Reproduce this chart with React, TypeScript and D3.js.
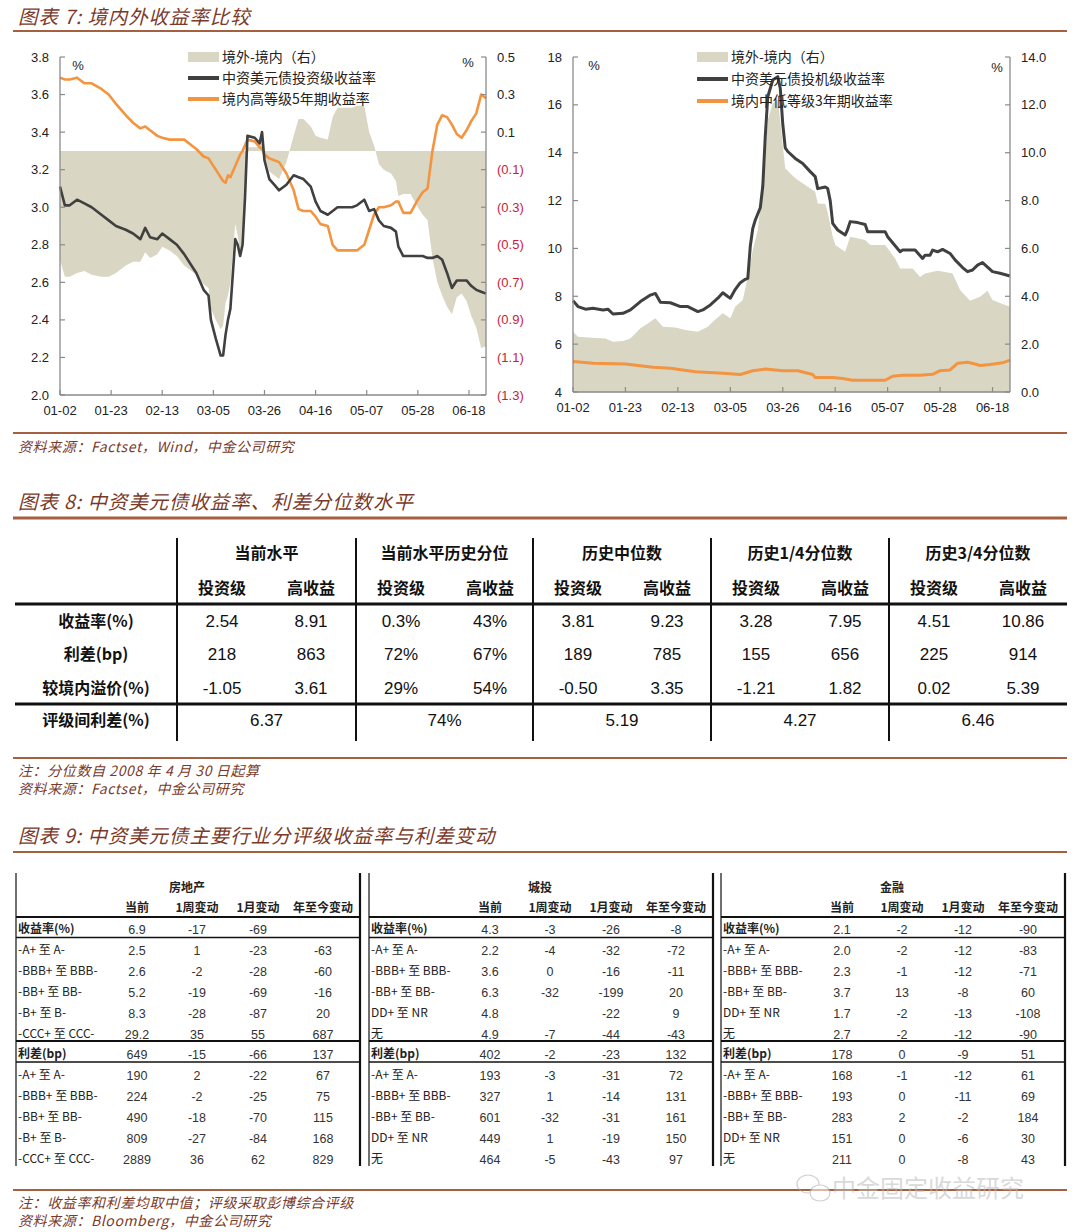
import React from "react";
import * as d3 from "d3";

// ---------- shared ----------
const BASE = new Date(2020, 0, 2);
const END_DAY = 175;
const xTickLabels = ["01-02", "01-23", "02-13", "03-05", "03-26", "04-16", "05-07", "05-28", "06-18"];

// ---------- Chart 7 (left): investment grade ----------
const leftDays = [0, 2, 4, 7, 10, 13, 17, 20, 23, 27, 30, 33, 35, 37, 40, 42, 45, 48, 51, 54, 56, 59, 61, 62, 64, 66, 67, 68, 69, 70, 72, 73, 74, 75, 76, 77, 80, 82, 83, 84, 86, 88, 90, 93, 96, 98, 100, 103, 105, 107, 110, 112, 114, 117, 120, 122, 125, 127, 129, 131, 133, 136, 138, 139, 141, 144, 147, 149, 151, 153, 155, 157, 159, 161, 163, 165, 167, 169, 171, 173, 175];
const leftIgYield = [3.11, 3.01, 3.01, 3.04, 3.02, 3.0, 2.96, 2.93, 2.9, 2.88, 2.86, 2.83, 2.89, 2.84, 2.83, 2.86, 2.83, 2.8, 2.75, 2.69, 2.65, 2.56, 2.53, 2.4, 2.3, 2.21, 2.21, 2.32, 2.4, 2.46, 2.83, 2.8, 2.74, 2.8, 3.05, 3.38, 3.37, 3.34, 3.4, 3.25, 3.15, 3.12, 3.09, 3.12, 3.17, 3.16, 3.15, 3.11, 3.03, 2.98, 2.96, 2.98, 3.0, 3.0, 3.0, 3.01, 3.04, 2.98, 2.99, 2.93, 2.9, 2.89, 2.87, 2.79, 2.74, 2.74, 2.74, 2.74, 2.73, 2.73, 2.74, 2.72, 2.65, 2.57, 2.61, 2.61, 2.61, 2.58, 2.56, 2.55, 2.54];
const leftDomHigh5y = [3.69, 3.68, 3.68, 3.69, 3.66, 3.66, 3.63, 3.6, 3.55, 3.49, 3.45, 3.42, 3.43, 3.41, 3.38, 3.37, 3.36, 3.36, 3.36, 3.33, 3.31, 3.27, 3.26, 3.24, 3.2, 3.16, 3.14, 3.13, 3.17, 3.16, 3.22, 3.25, 3.28, 3.3, 3.33, 3.36, 3.35, 3.32, 3.31, 3.28, 3.26, 3.25, 3.24, 3.18, 3.09, 2.99, 2.98, 2.98, 2.95, 2.91, 2.9, 2.8, 2.77, 2.77, 2.77, 2.77, 2.8, 2.88, 2.96, 3.0, 3.0, 3.01, 3.03, 3.03, 2.97, 2.97, 3.04, 3.08, 3.1, 3.3, 3.44, 3.49, 3.48, 3.44, 3.39, 3.37, 3.41, 3.46, 3.5, 3.6, 3.58];
const leftSpread = [-0.58, -0.67, -0.67, -0.65, -0.64, -0.66, -0.67, -0.67, -0.65, -0.61, -0.59, -0.59, -0.54, -0.57, -0.55, -0.51, -0.53, -0.56, -0.61, -0.64, -0.66, -0.71, -0.73, -0.84, -0.9, -0.95, -0.93, -0.81, -0.77, -0.7, -0.39, -0.45, -0.54, -0.5, -0.28, 0.02, 0.02, 0.02, 0.09, -0.03, -0.11, -0.13, -0.15, -0.06, 0.08, 0.17, 0.17, 0.13, 0.08, 0.07, 0.06, 0.18, 0.23, 0.23, 0.23, 0.24, 0.24, 0.1, 0.03, -0.07, -0.1, -0.12, -0.16, -0.24, -0.23, -0.23, -0.3, -0.34, -0.37, -0.57, -0.7, -0.77, -0.83, -0.87, -0.78, -0.76, -0.8, -0.88, -0.94, -1.05, -1.04];
const leftTicksL = [2.0, 2.2, 2.4, 2.6, 2.8, 3.0, 3.2, 3.4, 3.6, 3.8];
const leftTicksR = [-1.3, -1.1, -0.9, -0.7, -0.5, -0.3, -0.1, 0.1, 0.3, 0.5];
const leftLegend = ["境外-境内（右）", "中资美元债投资级收益率", "境内高等级5年期收益率"];

// ---------- Chart 7 (right): high yield ----------
const rightHyDays = [0, 2, 5, 8, 12, 14, 16, 20, 23, 27, 31, 33, 35, 39, 43, 46, 50, 52, 55, 58, 60, 62, 63, 65, 67, 69, 70, 71, 72, 73, 75, 76, 77, 78, 80, 82, 83, 84, 85, 86, 89, 92, 95, 97, 98, 101, 102, 103, 104, 106, 109, 110, 111, 114, 117, 118, 125, 126, 131, 132, 137, 140, 141, 143, 144, 146, 148, 151, 153, 156, 158, 160, 162, 164, 165, 168, 171, 175];
const rightHyYield = [7.82, 7.57, 7.46, 7.5, 7.43, 7.46, 7.26, 7.29, 7.43, 7.78, 8.05, 8.12, 7.75, 7.73, 7.57, 7.57, 7.36, 7.43, 7.64, 7.92, 8.15, 7.99, 7.92, 8.29, 8.57, 8.71, 8.75, 10.1, 10.84, 11.19, 11.7, 12.6, 14.7, 16.34, 17.04, 17.18, 16.7, 15.2, 14.2, 14.05, 13.76, 13.55, 13.21, 13.0, 12.5, 12.57, 12.5, 12.0, 11.05, 10.77, 10.56, 10.8, 11.12, 11.08, 11.0, 10.7, 10.7, 10.49, 9.86, 9.93, 9.93, 9.58, 9.72, 9.72, 9.93, 9.86, 9.96, 9.79, 9.52, 9.2, 9.03, 9.1, 9.3, 9.41, 9.31, 9.03, 8.96, 8.85];
const rightSpreadDays = [0, 2, 8, 13, 16, 20, 23, 27, 31, 33, 36, 41, 45, 50, 54, 57, 60, 63, 65, 68, 70, 72, 74, 75, 77, 78, 80, 82, 83, 84, 85, 89, 93, 97, 98, 101, 102, 104, 105, 109, 111, 117, 119, 125, 129, 131, 136, 139, 141, 146, 149, 152, 155, 159, 163, 166, 168, 172, 175];
const rightSpread = [2.52, 2.31, 2.27, 2.24, 2.1, 2.13, 2.24, 2.66, 2.94, 3.08, 2.73, 2.7, 2.59, 2.52, 2.73, 3.03, 3.29, 3.08, 3.57, 3.85, 4.82, 5.93, 6.77, 7.74, 9.7, 11.37, 12.07, 12.2, 11.3, 10.3, 9.35, 8.93, 8.65, 8.37, 7.88, 7.86, 7.5, 6.5, 6.14, 5.86, 6.49, 6.35, 6.14, 6.14, 5.58, 5.16, 5.16, 4.81, 4.95, 5.07, 5.02, 4.95, 4.26, 3.81, 3.98, 4.23, 3.84, 3.68, 3.56];
const rightDomDays = [0, 8, 21, 32, 39, 49, 60, 67, 72, 77, 84, 90, 96, 97, 104, 108, 112, 125, 128, 132, 139, 144, 147, 151, 154, 158, 161, 163, 167, 172, 175];
const rightDomLow3y = [5.27, 5.2, 5.17, 5.03, 4.99, 4.85, 4.78, 4.73, 4.89, 4.96, 4.89, 4.89, 4.73, 4.61, 4.61, 4.56, 4.49, 4.49, 4.66, 4.7, 4.7, 4.74, 4.89, 4.92, 5.2, 5.24, 5.17, 5.11, 5.15, 5.22, 5.33];
const rightTicksL = [4, 6, 8, 10, 12, 14, 16, 18];
const rightTicksR = [0, 2, 4, 6, 8, 10, 12, 14];
const rightLegend = ["境外-境内（右）", "中资美元债投机级收益率", "境内中低等级3年期收益率"];

// ---------- Table 8 ----------
const t8Groups = ["当前水平", "当前水平历史分位", "历史中位数", "历史1/4分位数", "历史3/4分位数"];
const t8Sub = ["投资级", "高收益"];
const t8RowLabels = ["收益率(%)", "利差(bp)", "较境内溢价(%)"];
const t8Values = [
  ["2.54", "8.91", "0.3%", "43%", "3.81", "9.23", "3.28", "7.95", "4.51", "10.86"],
  ["218", "863", "72%", "67%", "189", "785", "155", "656", "225", "914"],
  ["-1.05", "3.61", "29%", "54%", "-0.50", "3.35", "-1.21", "1.82", "0.02", "5.39"],
];
const t8LastLabel = "评级间利差(%)";
const t8LastValues = ["6.37", "74%", "5.19", "4.27", "6.46"];

// ---------- Table 9 ----------
const t9Sectors = ["房地产", "城投", "金融"];
const t9ColHeads = ["当前", "1周变动", "1月变动", "年至今变动"];
const t9Labels = [
  ["收益率(%)", "-A+ 至 A-", "-BBB+ 至 BBB-", "-BB+ 至 BB-", "-B+ 至 B-", "-CCC+ 至 CCC-", "利差(bp)", "-A+ 至 A-", "-BBB+ 至 BBB-", "-BB+ 至 BB-", "-B+ 至 B-", "-CCC+ 至 CCC-"],
  ["收益率(%)", "-A+ 至 A-", "-BBB+ 至 BBB-", "-BB+ 至 BB-", "DD+ 至 NR", "无", "利差(bp)", "-A+ 至 A-", "-BBB+ 至 BBB-", "-BB+ 至 BB-", "DD+ 至 NR", "无"],
  ["收益率(%)", "-A+ 至 A-", "-BBB+ 至 BBB-", "-BB+ 至 BB-", "DD+ 至 NR", "无", "利差(bp)", "-A+ 至 A-", "-BBB+ 至 BBB-", "-BB+ 至 BB-", "DD+ 至 NR", "无"],
];
const t9Values = [
  [
    ["6.9", "-17", "-69", ""], ["2.5", "1", "-23", "-63"], ["2.6", "-2", "-28", "-60"], ["5.2", "-19", "-69", "-16"], ["8.3", "-28", "-87", "20"], ["29.2", "35", "55", "687"],
    ["649", "-15", "-66", "137"], ["190", "2", "-22", "67"], ["224", "-2", "-25", "75"], ["490", "-18", "-70", "115"], ["809", "-27", "-84", "168"], ["2889", "36", "62", "829"],
  ],
  [
    ["4.3", "-3", "-26", "-8"], ["2.2", "-4", "-32", "-72"], ["3.6", "0", "-16", "-11"], ["6.3", "-32", "-199", "20"], ["4.8", "", "-22", "9"], ["4.9", "-7", "-44", "-43"],
    ["402", "-2", "-23", "132"], ["193", "-3", "-31", "72"], ["327", "1", "-14", "131"], ["601", "-32", "-31", "161"], ["449", "1", "-19", "150"], ["464", "-5", "-43", "97"],
  ],
  [
    ["2.1", "-2", "-12", "-90"], ["2.0", "-2", "-12", "-83"], ["2.3", "-1", "-12", "-71"], ["3.7", "13", "-8", "60"], ["1.7", "-2", "-13", "-108"], ["2.7", "-2", "-12", "-90"],
    ["178", "0", "-9", "51"], ["168", "-1", "-12", "61"], ["193", "0", "-11", "69"], ["283", "2", "-2", "184"], ["151", "0", "-6", "30"], ["211", "0", "-8", "43"],
  ],
];

// ---------- styles ----------
const CJK = "'Noto Sans CJK SC', 'Noto Sans', sans-serif";
const SANS = "'Liberation Sans', Arial, sans-serif";
const TITLE_COLOR = "#7a3a2a";
const RULE_COLOR = "#a5603f";
const AXIS_COLOR = "#8a8a8a";
const FILL_COLOR = "#d9d6c4";
const DARK = "#404040";
const ORANGE = "#f39440";
const NEG_RED = "#cc1a3a";

const dayToDate = (d: number) => d3.timeDay.offset(BASE, d);
const parseTick = d3.timeParse("%Y-%m-%d");

type ChartCfg = {
  x0: number; x1: number; yTop: number; yBot: number;
  domL: [number, number]; domR: [number, number];
  ticksL: number[]; ticksR: number[];
  fmtL: (v: number) => string; fmtR: (v: number) => string;
  fillDays: number[]; fillVals: number[];
  darkDays: number[]; darkVals: number[];
  orDays: number[]; orVals: number[];
  legend: string[]; legX: number; legY: number[];
  pctL: [number, number]; pctR: [number, number];
  lw: number; xLabelY: number;
};

function DualChart({ c }: { c: ChartCfg }) {
  const x = d3.scaleTime().domain([BASE, dayToDate(END_DAY)]).range([c.x0, c.x1]);
  const yL = d3.scaleLinear().domain(c.domL).range([c.yBot, c.yTop]);
  const yR = d3.scaleLinear().domain(c.domR).range([c.yBot, c.yTop]);
  const fillBase = yR(Math.max(0, c.domR[0]));
  const area = d3.area<number>()
    .x((_, i) => x(dayToDate(c.fillDays[i])))
    .y0(fillBase)
    .y1((v) => yR(v));
  const darkLine = d3.line<number>().x((_, i) => x(dayToDate(c.darkDays[i]))).y((v) => yL(v));
  const orLine = d3.line<number>().x((_, i) => x(dayToDate(c.orDays[i]))).y((v) => yL(v));
  const tickDates = xTickLabels.map((l) => parseTick("2020-" + l) as Date);
  return (
    <g>
      <path d={area(c.fillVals) || ""} fill={FILL_COLOR} />
      <path d={orLine(c.orVals) || ""} fill="none" stroke={ORANGE} strokeWidth={c.lw} strokeLinejoin="round" />
      <path d={darkLine(c.darkVals) || ""} fill="none" stroke={DARK} strokeWidth={c.lw} strokeLinejoin="round" />
      {/* axes */}
      <line x1={c.x0} x2={c.x0} y1={c.yTop} y2={c.yBot} stroke={AXIS_COLOR} strokeWidth={1.3} />
      <line x1={c.x1} x2={c.x1} y1={c.yTop} y2={c.yBot} stroke={AXIS_COLOR} strokeWidth={1.3} />
      <line x1={c.x0} x2={c.x1} y1={c.yBot} y2={c.yBot} stroke={AXIS_COLOR} strokeWidth={1.3} />
      {c.ticksL.map((t) => (
        <g key={"l" + t}>
          <line x1={c.x0} x2={c.x0 + 5} y1={yL(t)} y2={yL(t)} stroke={AXIS_COLOR} strokeWidth={1.2} />
          <text x={c.x0 - 11} y={yL(t)} dy="0.35em" textAnchor="end" fontFamily={SANS} fontSize={13} fill="#222">{c.fmtL(t)}</text>
        </g>
      ))}
      {c.ticksR.map((t) => (
        <g key={"r" + t}>
          <line x1={c.x1 - 5} x2={c.x1} y1={yR(t)} y2={yR(t)} stroke={AXIS_COLOR} strokeWidth={1.2} />
          <text x={c.x1 + 11} y={yR(t)} dy="0.35em" textAnchor="start" fontFamily={SANS} fontSize={13} fill={t < 0 ? NEG_RED : "#222"}>{c.fmtR(t)}</text>
        </g>
      ))}
      {tickDates.map((d, i) => (
        <g key={"x" + i}>
          <line x1={x(d)} x2={x(d)} y1={c.yBot} y2={c.yBot - 5} stroke={AXIS_COLOR} strokeWidth={1.2} />
          <text x={x(d)} y={c.xLabelY} textAnchor="middle" fontFamily={SANS} fontSize={13} fill="#222">{xTickLabels[i]}</text>
        </g>
      ))}
      <text x={c.pctL[0]} y={c.pctL[1]} textAnchor="middle" fontFamily={SANS} fontSize={13} fill="#222">%</text>
      <text x={c.pctR[0]} y={c.pctR[1]} textAnchor="middle" fontFamily={SANS} fontSize={13} fill="#222">%</text>
      {/* legend */}
      <rect x={c.legX} y={c.legY[0] - 5} width={31} height={10} fill={FILL_COLOR} />
      <line x1={c.legX} x2={c.legX + 31} y1={c.legY[1]} y2={c.legY[1]} stroke={DARK} strokeWidth={4} />
      <line x1={c.legX} x2={c.legX + 31} y1={c.legY[2]} y2={c.legY[2]} stroke={ORANGE} strokeWidth={4} />
      {c.legend.map((s, i) => (
        <text key={s} x={c.legX + 34} y={c.legY[i]} dy="0.36em" fontFamily={CJK} fontSize={14} fill="#222">{s}</text>
      ))}
    </g>
  );
}

const leftCfg: ChartCfg = {
  x0: 60, x1: 486, yTop: 57, yBot: 395,
  domL: [2.0, 3.8], domR: [-1.3, 0.5],
  ticksL: leftTicksL, ticksR: leftTicksR,
  fmtL: (v) => v.toFixed(1),
  fmtR: (v) => (v < 0 ? "(" + Math.abs(v).toFixed(1) + ")" : v.toFixed(1)),
  fillDays: leftDays, fillVals: leftSpread,
  darkDays: leftDays, darkVals: leftIgYield,
  orDays: leftDays, orVals: leftDomHigh5y,
  legend: leftLegend, legX: 188, legY: [57, 78, 99],
  pctL: [78, 70], pctR: [468, 67],
  lw: 2.6, xLabelY: 415,
};

const rightCfg: ChartCfg = {
  x0: 573, x1: 1010, yTop: 57, yBot: 392,
  domL: [4, 18], domR: [0, 14],
  ticksL: rightTicksL, ticksR: rightTicksR,
  fmtL: (v) => String(v),
  fmtR: (v) => v.toFixed(1),
  fillDays: rightSpreadDays, fillVals: rightSpread,
  darkDays: rightHyDays, darkVals: rightHyYield,
  orDays: rightDomDays, orVals: rightDomLow3y,
  legend: rightLegend, legX: 697, legY: [57, 79, 101],
  pctL: [594, 70], pctR: [997, 72],
  lw: 3, xLabelY: 412,
};

function Title({ y, text }: { y: number; text: string }) {
  return (
    <text x={18} y={y} fontFamily={CJK} fontStyle="italic" fontSize={19.5} letterSpacing={0.9} fill={TITLE_COLOR}>{text}</text>
  );
}
function Rule({ y, w = 2 }: { y: number; w?: number }) {
  return <line x1={13} x2={1067} y1={y} y2={y} stroke={RULE_COLOR} strokeWidth={w} />;
}
function Note({ y, text }: { y: number; text: string }) {
  return (
    <text x={18} y={y} fontFamily={CJK} fontStyle="italic" fontSize={14} letterSpacing={0.6} fill={TITLE_COLOR}>{text}</text>
  );
}

function Table8() {
  const bounds = [177, 356, 533, 711, 889, 1067];
  const subOff = [45, 134];
  const rowY = [621, 654, 688];
  return (
    <g>
      {bounds.slice(0, 5).map((bx) => (
        <line key={bx} x1={bx} x2={bx} y1={538} y2={741} stroke="#111" strokeWidth={2} />
      ))}
      <line x1={15} x2={1067} y1={604} y2={604} stroke="#111" strokeWidth={3} />
      <line x1={15} x2={1067} y1={704} y2={704} stroke="#111" strokeWidth={3} />
      {t8Groups.map((g, i) => (
        <text key={g} x={(bounds[i] + bounds[i + 1]) / 2} y={553} dy="0.36em" textAnchor="middle" fontFamily={CJK} fontWeight="bold" fontSize={16} fill="#111">{g}</text>
      ))}
      {t8Groups.map((_, i) =>
        t8Sub.map((s, j) => (
          <text key={i + s} x={bounds[i] + subOff[j]} y={588} dy="0.36em" textAnchor="middle" fontFamily={CJK} fontWeight="bold" fontSize={16} fill="#111">{s}</text>
        ))
      )}
      {t8RowLabels.map((l, r) => (
        <text key={l} x={96} y={rowY[r]} dy="0.36em" textAnchor="middle" fontFamily={CJK} fontWeight="bold" fontSize={16} fill="#111">{l}</text>
      ))}
      {t8Values.map((row, r) =>
        row.map((v, k) => (
          <text key={r + "-" + k} x={bounds[Math.floor(k / 2)] + subOff[k % 2]} y={rowY[r]} dy="0.36em" textAnchor="middle" fontFamily={SANS} fontSize={17} fill="#111">{v}</text>
        ))
      )}
      <text x={96} y={720} dy="0.36em" textAnchor="middle" fontFamily={CJK} fontWeight="bold" fontSize={16} fill="#111">{t8LastLabel}</text>
      {t8LastValues.map((v, i) => (
        <text key={"last" + i} x={(bounds[i] + bounds[i + 1]) / 2} y={720} dy="0.36em" textAnchor="middle" fontFamily={SANS} fontSize={17} fill="#111">{v}</text>
      ))}
    </g>
  );
}

function Table9() {
  const lefts = [16, 369, 721];
  const width = 344;
  const colOff = [121, 181, 242, 307];
  const rowYs = [929, 950, 971, 992, 1013, 1034, 1054, 1075, 1096, 1117, 1138, 1159];
  return (
    <g>
      {lefts.map((lx, p) => (
        <g key={p}>
          <line x1={lx} x2={lx} y1={873} y2={1166} stroke="#111" strokeWidth={1.2} />
          <line x1={lx + width} x2={lx + width} y1={873} y2={1166} stroke="#111" strokeWidth={2.2} />
          <line x1={lx} x2={lx + width} y1={917} y2={917} stroke="#111" strokeWidth={2} />
          <line x1={lx} x2={lx + width} y1={937.5} y2={937.5} stroke="#111" strokeWidth={1.5} />
          <line x1={lx} x2={lx + width} y1={1041} y2={1041} stroke="#111" strokeWidth={2} />
          <line x1={lx} x2={lx + width} y1={1062} y2={1062} stroke="#111" strokeWidth={1.5} />
          <text x={lx + 171} y={888} dy="0.36em" textAnchor="middle" fontFamily={CJK} fontWeight="bold" fontSize={12} fill="#222">{t9Sectors[p]}</text>
          {t9ColHeads.map((h, k) => (
            <text key={h} x={lx + colOff[k]} y={908} dy="0.36em" textAnchor="middle" fontFamily={CJK} fontWeight="bold" fontSize={12} fill="#222">{h}</text>
          ))}
          {t9Labels[p].map((l, r) => (
            <text key={"l" + r} x={lx + 2} y={rowYs[r]} dy="0.36em" fontFamily={CJK} fontWeight={r === 0 || r === 6 ? "bold" : "normal"} fontSize={12} fill="#222">{l}</text>
          ))}
          {t9Values[p].map((row, r) =>
            row.map((v, k) => (
              <text key={r + "-" + k} x={lx + colOff[k]} y={rowYs[r]} dy="0.36em" textAnchor="middle" fontFamily={SANS} fontSize={12.5} fill="#333">{v}</text>
            ))
          )}
        </g>
      ))}
    </g>
  );
}

export default function App() {
  return (
    <svg width={1080} height={1232} viewBox="0 0 1080 1232" style={{ position: "absolute", left: 0, top: 0, background: "#fff" }}>
      <rect x={0} y={0} width={1080} height={1232} fill="#fff" />
      <Title y={24} text="图表 7:  境内外收益率比较" />
      <Rule y={31} />
      <DualChart c={leftCfg} />
      <DualChart c={rightCfg} />
      <Rule y={433} />
      <Note y={452} text="资料来源：Factset，Wind，中金公司研究" />

      <Title y={509} text="图表 8:  中资美元债收益率、利差分位数水平" />
      <Rule y={518} w={3} />
      <Table8 />
      <Rule y={758} w={2} />
      <Note y={776} text="注：分位数自 2008 年 4 月 30 日起算" />
      <Note y={794} text="资料来源：Factset，中金公司研究" />

      <Title y={843} text="图表 9:  中资美元债主要行业分评级收益率与利差变动" />
      <Rule y={852} w={2} />
      <Table9 />
      <Rule y={1190} w={2} />
      <Note y={1208} text="注：收益率和利差均取中值；评级采取彭博综合评级" />
      <Note y={1226} text="资料来源：Bloomberg，中金公司研究" />

      {/* watermark */}
      <g opacity={0.55}>
        <ellipse cx={808} cy={1184} rx={11} ry={9} fill="none" stroke="#aaa" strokeWidth={1.2} />
        <ellipse cx={820} cy={1193} rx={10} ry={8} fill="#fff" stroke="#aaa" strokeWidth={1.2} />
        <text x={832} y={1197} fontFamily={CJK} fontSize={24} fill="#bbb">中金固定收益研究</text>
      </g>
    </svg>
  );
}
